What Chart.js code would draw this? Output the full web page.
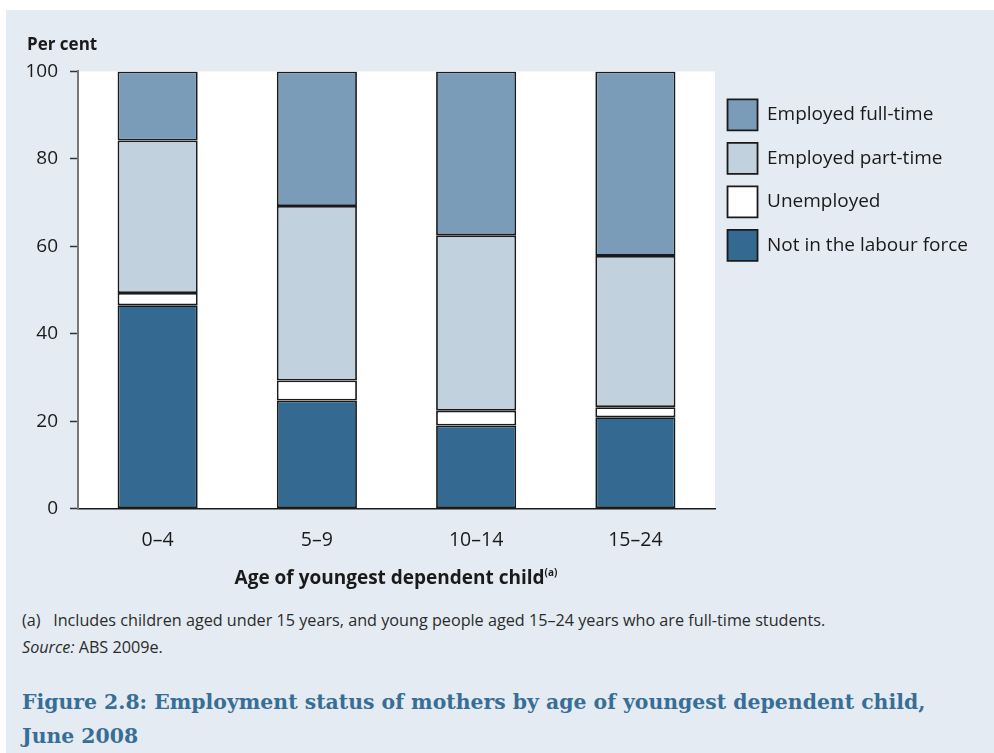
<!DOCTYPE html>
<html>
<head>
<meta charset="utf-8">
<script src="https://cdn.jsdelivr.net/npm/chart.js@4/dist/chart.umd.min.js"></script>
<style>
  html, body { margin: 0; padding: 0; background: #ffffff; }
  body { width: 994px; height: 753px; position: relative; overflow: hidden; font-family: "Open Sans", sans-serif; color: #1a1a1a; }
  #panel { position: absolute; left: 6px; top: 10px; width: 988px; height: 743px; background: #e4ebf2; }
  #wrap { position: absolute; left: 0; top: 0; width: 994px; height: 572px; }
  #xtitle { position: absolute; left: 0; width: 792px; text-align: center; top: 564px; font-weight: bold; font-size: 19px; line-height: 26px; }
  #xtitle sup { font-size: 10px; vertical-align: 8px; line-height: 0; }
  .note { position: absolute; left: 22px; font-size: 16.2px; line-height: 22px; color: #2b2b2b; white-space: nowrap; }
  #title { position: absolute; left: 22px; top: 685px; font-family: "DejaVu Serif", serif; font-weight: bold; font-size: 20.4px; line-height: 34px; color: #386e96; white-space: nowrap; }
</style>
</head>
<body>
<div id="panel"></div>
<div id="wrap"><canvas id="chart"></canvas></div>
<div id="xtitle">Age of youngest dependent child<sup>(a)</sup></div>
<div class="note" style="top:609px;">(a)&nbsp;&nbsp; Includes children aged under 15 years, and young people aged 15–24 years who are full-time students.</div>
<div class="note" style="top:636px;"><i>Source:</i> ABS 2009e.</div>
<div id="title">Figure 2.8: Employment status of mothers by age of youngest dependent child,<br>June 2008</div>
<script>
// Age of youngest dependent child
const categories = ['0–4', '5–9', '10–14', '15–24'];

// Employment status of mothers, per cent (stacked bottom to top)
const notInLabourForce = [46.5, 24.7, 19.0, 20.9];
const unemployed       = [2.8, 4.6, 3.4, 2.3];
const employedPartTime = [34.9, 39.9, 40.1, 34.6];
const employedFullTime = [15.8, 30.8, 37.5, 42.2];

const yTicks = [0, 20, 40, 60, 80, 100];

const seriesNames  = ['Not in the labour force', 'Unemployed', 'Employed part-time', 'Employed full-time'];
const seriesValues = [notInLabourForce, unemployed, employedPartTime, employedFullTime];
const seriesColors = ['#346a92', '#ffffff', '#c1d2de', '#7a9cb9'];

const FONT = '"Open Sans", sans-serif';
const INK = '#1a1a1a';

// white plotting area behind the bars
const plotBackground = {
  id: 'plotBackground',
  beforeDraw(chart) {
    const { ctx, chartArea: a } = chart;
    ctx.save();
    ctx.fillStyle = '#ffffff';
    ctx.fillRect(a.left, a.top, a.right - a.left, a.bottom - a.top);
    ctx.restore();
  }
};

new Chart(document.getElementById('chart'), {
  type: 'bar',
  data: {
    labels: categories,
    datasets: seriesNames.map((name, i) => ({
      label: name,
      data: seriesValues[i],
      backgroundColor: seriesColors[i],
      borderColor: INK,
      borderWidth: 1.8,
      borderSkipped: false,
      barPercentage: 0.503,
      categoryPercentage: 1
    }))
  },
  options: {
    responsive: true,
    maintainAspectRatio: false,
    animation: false,
    layout: { padding: { left: 27, right: 16, top: 0, bottom: 0 } },
    plugins: {
      tooltip: { enabled: false },
      title: {
        display: true,
        text: 'Per cent',
        align: 'start',
        color: INK,
        font: { family: FONT, size: 17, weight: 'bold', lineHeight: 1.2 },
        padding: { top: 35, bottom: 16 }
      },
      legend: {
        position: 'right',
        align: 'start',
        fullSize: false,
        reverse: true,
        maxWidth: 400,
        title: { display: true, text: ' ', font: { size: 15.5, lineHeight: 1 }, padding: 0 },
        labels: {
          boxWidth: 30,
          boxHeight: 31,
          padding: 12.5,
          color: INK,
          font: { family: FONT, size: 19 }
        }
      }
    },
    scales: {
      x: {
        stacked: true,
        grid: { display: false, drawTicks: false },
        border: { display: true, color: INK, width: 1.5 },
        ticks: { color: INK, font: { family: FONT, size: 19.5 }, padding: 20 }
      },
      y: {
        stacked: true,
        min: 0,
        max: 100,
        afterFit(scale) { scale.width = 51; },
        afterBuildTicks(scale) { scale.ticks = yTicks.map(v => ({ value: v })); },
        grid: { drawOnChartArea: false, drawTicks: true, tickLength: 8, color: '#333333', tickWidth: 1.5 },
        border: { display: true, color: '#777777', width: 2 },
        ticks: { color: INK, font: { family: FONT, size: 19 }, padding: 12 }
      }
    }
  },
  plugins: [plotBackground]
});
</script>
</body>
</html>
